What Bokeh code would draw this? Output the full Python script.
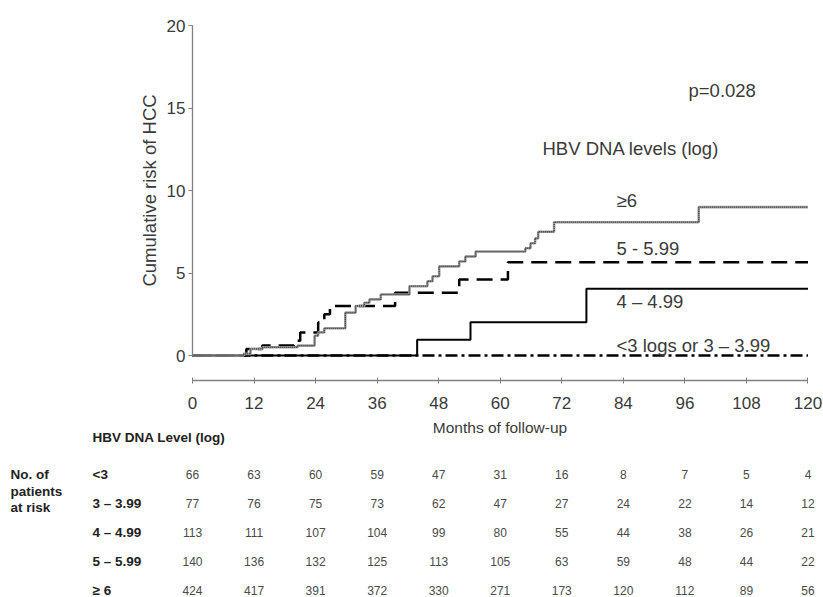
from bokeh.plotting import figure
from bokeh.models import Range1d, FixedTicker, LinearAxis
from bokeh.core.properties import value
from bokeh.embed import file_html
from bokeh.resources import INLINE

FONT = "Liberation Sans"

# ---- cumulative risk of HCC (%) step curves ----
ge6_t = [0, 10, 11.3, 13.6, 20.5, 23.8, 24.5, 25.7, 29.8, 31.8, 33.5, 34.5, 36.7,
         42.3, 45.8, 46.8, 48.1, 52, 53.2, 55.2, 64.9, 65.9, 66.8, 67.4, 70.5, 98.7, 120]
ge6_v = [0, 0.1, 0.4, 0.5, 0.6, 1.2, 1.4, 1.65, 2.6, 3.0, 3.2, 3.4, 3.7,
         4.2, 4.5, 4.8, 5.4, 5.7, 6.0, 6.3, 6.5, 6.8, 7.1, 7.5, 8.08, 8.99, 8.99]

g5_t = [0, 10.5, 13.6, 19.8, 21, 24.5, 25.7, 26.8, 39.5, 52, 61.5, 120]
g5_v = [0, 0.4, 0.6, 0.9, 1.4, 2.0, 2.5, 3.0, 3.8, 4.6, 5.65, 5.65]

g4_t = [0, 43.8, 54.2, 76.8, 120]
g4_v = [0, 0.95, 2.02, 4.04, 4.04]

g3_t = [0, 120]
g3_v = [0, 0]

curve_labels = ["\u22656", "5 - 5.99", "4 \u2013 4.99", "<3 logs or 3 \u2013 3.99"]
y_ticks = [0, 5, 10, 15, 20]
month_ticks = [0, 12, 24, 36, 48, 60, 72, 84, 96, 108, 120]

# ---- number at risk table ----
risk_groups = ["<3", "3 \u2013 3.99", "4 \u2013 4.99", "5 \u2013 5.99", "\u2265 6"]
risk_lt3 = [66, 63, 60, 59, 47, 31, 16, 8, 7, 5, 4]
risk_3 = [77, 76, 75, 73, 62, 47, 27, 24, 22, 14, 12]
risk_4 = [113, 111, 107, 104, 99, 80, 55, 44, 38, 26, 21]
risk_5 = [140, 136, 132, 125, 113, 105, 63, 59, 48, 44, 22]
risk_6 = [424, 417, 391, 372, 330, 271, 173, 120, 112, 89, 56]

AXIS_GRAY = "#808080"
TEXT_GRAY = "#3a3a3a"

W, H = 823, 597
X0_PX, PX_PER_MONTH = 192.0, 5.129     # page x of month 0, pixels per month
Y0_PX, PX_PER_PCT = 355.0, 16.5        # page y of risk 0, pixels per %


def y_at(px):
    """risk value that sits at page row px"""
    return (Y0_PX - px) / PX_PER_PCT


def x_at(px):
    """month value that sits at page column px"""
    return (px - X0_PX) / PX_PER_MONTH


p = figure(width=W, height=H,
           x_range=Range1d(x_at(0), x_at(W)), y_range=Range1d(y_at(H), y_at(0)),
           output_backend="svg", toolbar_location=None,
           x_axis_location=None, y_axis_location=None,
           min_border_left=0, min_border_right=0, min_border_top=0, min_border_bottom=0)
p.background_fill_color = "white"
p.border_fill_color = "white"
p.outline_line_color = None
p.grid.visible = False

# y axis, placed at month 0
yax = LinearAxis(fixed_location=0, bounds=(0, 20), ticker=FixedTicker(ticks=y_ticks))
yax.axis_line_color = AXIS_GRAY
yax.axis_line_width = 1.3
yax.major_tick_line_color = AXIS_GRAY
yax.major_tick_out = 4
yax.major_tick_in = 0
yax.minor_tick_line_color = None
yax.major_label_standoff = 3
yax.major_label_text_font = FONT
yax.major_label_text_font_size = "17px"
yax.major_label_text_color = TEXT_GRAY
yax.axis_label = "Cumulative risk of HCC"
yax.axis_label_text_font = FONT
yax.axis_label_text_font_size = "18.5px"
yax.axis_label_text_font_style = "normal"
yax.axis_label_text_color = TEXT_GRAY
yax.axis_label_standoff = 4
p.add_layout(yax, "left")

# x axis, offset below the zero line
xax = LinearAxis(fixed_location=y_at(380), bounds=(0, 120),
                 ticker=FixedTicker(ticks=month_ticks))
xax.axis_line_color = AXIS_GRAY
xax.axis_line_width = 1.3
xax.major_tick_line_color = AXIS_GRAY
xax.major_tick_out = 3
xax.major_tick_in = 3
xax.minor_tick_line_color = None
xax.major_label_standoff = 13
xax.major_label_text_font = FONT
xax.major_label_text_font_size = "17px"
xax.major_label_text_color = TEXT_GRAY
xax.axis_label = "Months of follow-up"
xax.axis_label_text_font = FONT
xax.axis_label_text_font_size = "15.5px"
xax.axis_label_text_font_style = "normal"
xax.axis_label_text_color = TEXT_GRAY
xax.axis_label_standoff = 7
p.add_layout(xax, "below")

# curves
p.step(x=g3_t, y=g3_v, mode="after", line_color="black", line_width=2.5,
       line_dash="12 4 3 4")
p.step(x=g4_t, y=g4_v, mode="after", line_color="black", line_width=2)
p.step(x=g5_t, y=g5_v, mode="after", line_color="black", line_width=2.5,
       line_dash="16 8")
p.step(x=ge6_t, y=ge6_v, mode="after", line_color="#a0a0a0", line_width=2.6)
p.step(x=ge6_t, y=ge6_v, mode="after", line_color="#333333", line_width=1.3,
       line_dash="1 1")

# annotations in plot
txt = dict(text_font=value(FONT), text_font_size="18.5px", text_color=TEXT_GRAY,
           text_baseline="middle", text_align="left")
p.text(x=[x_at(616)] * 4, y=[y_at(200), y_at(248), y_at(300.5), y_at(345)],
       text=curve_labels, **txt)
p.text(x=[x_at(688)], y=[y_at(90)], text=["p=0.028"], **txt)
p.text(x=[x_at(542)], y=[y_at(148)], text=["HBV DNA levels (log)"], **txt)

# ---- number-at-risk table ----
bold = dict(text_font=value(FONT), text_font_size="13.5px", text_font_style="bold",
            text_color="#222222", text_baseline="middle", text_align="left")
num = dict(text_font=value(FONT), text_font_size="12px", text_color="#4a4a4a",
           text_baseline="middle", text_align="center")

row_y = [y_at(px) for px in (474, 503, 532, 561, 590)]
p.text(x=[x_at(92)], y=[y_at(437)], text=["HBV DNA Level (log)"], **bold)
p.text(x=[x_at(92)] * 5, y=row_y, text=risk_groups, **bold)
p.text(x=[x_at(10)] * 3, y=[y_at(474), y_at(490.5), y_at(507)],
       text=["No. of", "patients", "at risk"], **bold)

for i, row in enumerate([risk_lt3, risk_3, risk_4, risk_5, risk_6]):
    p.text(x=month_ticks, y=[row_y[i]] * len(row), text=[str(v) for v in row], **num)

open("out.html", "w").write(file_html(p, INLINE))
